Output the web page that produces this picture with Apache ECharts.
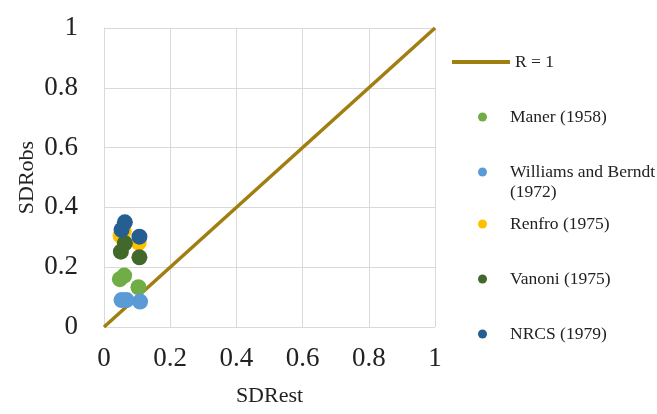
<!DOCTYPE html>
<html><head><meta charset="utf-8">
<script src="https://cdn.jsdelivr.net/npm/echarts@6/dist/echarts.min.js"></script>
<style>html,body{margin:0;padding:0;background:#fff}#c{width:657px;height:414px}</style>
</head><body><div id="c"></div>
<script>
const seriesNames = ['Maner (1958)', 'Williams and Berndt (1972)', 'Renfro (1975)', 'Vanoni (1975)', 'NRCS (1979)'];
const seriesColors = ['#70AD47', '#5B9BD5', '#FFC000', '#43682B', '#255E91'];
const maner = [[0.048,0.160],[0.061,0.172],[0.104,0.133]];
const williams = [[0.053,0.090],[0.068,0.090],[0.109,0.085]];
const renfro = [[0.050,0.305],[0.105,0.282],[0.060,0.320]];
const vanoni = [[0.063,0.280],[0.051,0.252],[0.107,0.233]];
const nrcs = [[0.063,0.350],[0.053,0.325],[0.107,0.302]];
const oneToOne = [[0,0],[1,1]];
const xTicks = [0, 0.2, 0.4, 0.6, 0.8, 1];
const yTicks = [0, 0.2, 0.4, 0.6, 0.8, 1];
const allData = [maner, williams, renfro, vanoni, nrcs];

const font = 'Liberation Serif, Times New Roman, serif';
const chart = echarts.init(document.getElementById('c'));
const legendTops = [103, 158, 210, 265, 320];
const legends = [{
  data: ['R = 1'], left: 447, top: 48, icon: 'rect', itemWidth: 58, itemHeight: 4,
  itemGap: 0, textStyle: {fontFamily: font, fontSize: 17.5, color: '#222', padding: [0,0,0,0]}
}];
seriesNames.forEach((n, i) => {
  legends.push({
    data: [n], left: 473, top: legendTops[i], icon: 'circle', itemWidth: 9, itemHeight: 9,
    formatter: (name) => name === 'Williams and Berndt (1972)' ? 'Williams and Berndt' : name,
    textStyle: {fontFamily: font, fontSize: 17.5, color: '#222', padding: [0,0,0,18]}
  });
});
const series = [{
  name: 'R = 1', type: 'line', data: oneToOne, symbol: 'none', z: 1,
  lineStyle: {color: '#A07E10', width: 3.5}, itemStyle: {color: '#A07E10'}
}];
seriesNames.forEach((n, i) => {
  series.push({
    name: n, type: 'scatter', data: allData[i], symbolSize: 16, z: 2 + i,
    itemStyle: {color: seriesColors[i], opacity: 1}
  });
});
chart.setOption({
  animation: false,
  grid: {left: 104, right: 222, top: 28, bottom: 87, outerBoundsMode: 'none', containLabel: false},
  legend: legends,
  xAxis: {
    type: 'value', min: 0, max: 1, interval: 0.2,
    name: 'SDRest', nameLocation: 'middle', nameGap: 58, nameMoveOverlap: false,
    nameTextStyle: {fontFamily: font, fontSize: 22, color: '#222'},
    axisLine: {show: false}, axisTick: {show: false},
    axisLabel: {fontFamily: font, fontSize: 27, color: '#222', margin: 18,
      formatter: v => xTicks.includes(+v.toFixed(1)) ? String(+v.toFixed(1)) : ''},
    splitLine: {show: true, lineStyle: {color: '#D9D9D9', width: 1}}
  },
  yAxis: {
    type: 'value', min: 0, max: 1, interval: 0.2,
    name: 'SDRobs', nameLocation: 'middle', nameGap: 66, nameRotate: 90, nameMoveOverlap: false,
    nameTextStyle: {fontFamily: font, fontSize: 22, color: '#222'},
    axisLine: {show: true, lineStyle: {color: '#D9D9D9'}}, axisTick: {show: false},
    axisLabel: {fontFamily: font, fontSize: 27, color: '#222', margin: 26,
      formatter: v => yTicks.includes(+v.toFixed(1)) ? String(+v.toFixed(1)) : ''},
    splitLine: {show: true, lineStyle: {color: '#D9D9D9', width: 1}}
  },
  graphic: [{type: 'text', left: 510, top: 183,
    style: {text: '(1972)', font: '17.5px ' + font, fill: '#222'}}],
  series: series
});
</script></body></html>
